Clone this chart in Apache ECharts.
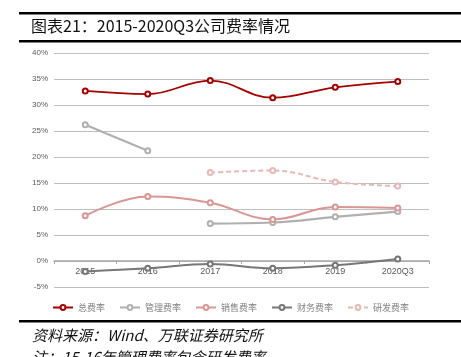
<!DOCTYPE html>
<html><head><meta charset="utf-8">
<script src="https://cdn.jsdelivr.net/npm/echarts@6/dist/echarts.min.js"></script>
<style>html,body{margin:0;padding:0;background:#fff}#c{width:461px;height:357px}</style>
</head><body><div id="c"></div>
<script>
var categories = ['2015','2016','2017','2018','2019','2020Q3'];
var totalRate = [32.7, 32.1, 34.7, 31.4, 33.4, 34.5];
var mgmtRate1516 = [26.2, 21.2, null, null, null, null];
var mgmtRate17on = [null, null, 7.2, 7.4, 8.5, 9.5];
var salesRate = [8.7, 12.4, 11.2, 8.0, 10.4, 10.2];
var financeRate = [-2.0, -1.4, -0.6, -1.4, -0.8, 0.4];
var rdRate = [null, null, 17.0, 17.4, 15.2, 14.4];
var yTicks = {min: -5, max: 40, interval: 5};

var chart = echarts.init(document.getElementById('c'), null, {renderer:'canvas'});
function ser(name, data, color, width, dashed){
  return {name:name, type:'line', data:data, smooth:0.4, symbol:'emptyCircle', symbolSize:5,
    lineStyle:{color:color, width:width, type: dashed?[5,3]:'solid'},
    itemStyle:{color:color, borderColor:color, borderWidth:1}, connectNulls:false, z:3};
}
var cjk = '"Noto Sans CJK SC", sans-serif';
var gridTop = 53, gridBottom = 70, plotH = 357 - gridTop - gridBottom;
var zeroOffset = -plotH * (0 - yTicks.min) / (yTicks.max - yTicks.min);
chart.setOption({
  animation:false,
  textStyle:{fontFamily:'Arial, "Liberation Sans", sans-serif'},
  grid:{left:54, right:32, top:gridTop, bottom:gridBottom},
  xAxis:{type:'category', data:categories, boundaryGap:true, offset:zeroOffset, z:1,
    axisLine:{show:true, onZero:false, lineStyle:{color:'#a6a6a6', width:1.5}},
    axisTick:{show:true, length:3, lineStyle:{color:'#a6a6a6'}},
    axisLabel:{color:'#595959', fontSize:9, margin:6}},
  yAxis:{type:'value', min:yTicks.min, max:yTicks.max, interval:yTicks.interval,
    axisLine:{show:false}, axisTick:{show:false},
    axisLabel:{color:'#595959', fontSize:8, formatter:'{value}%', margin:6},
    splitLine:{lineStyle:{color:'#bfbfbf', width:1.2}}},
  legend:{top:298, left:'center', itemWidth:20, itemHeight:6, itemGap:14,
    textStyle:{color:'#7f7f7f', fontSize:9, fontFamily:cjk},
    data:['总费率','管理费率','销售费率','财务费率','研发费率']},
  series:[
    ser('总费率', totalRate, '#a50000', 1.8),
    ser('管理费率', mgmtRate1516, '#b0b0b0', 2.2),
    ser('管理费率', mgmtRate17on, '#b0b0b0', 2.2),
    ser('销售费率', salesRate, '#d99694', 2),
    ser('财务费率', financeRate, '#767676', 2),
    ser('研发费率', rdRate, '#e6b9b8', 2, true)
  ],
  graphic:[
    {type:'rect', shape:{x:19, y:12, width:442, height:2.5}, style:{fill:'#000'}},
    {type:'text', left:31, top:18, style:{text:'图表21：2015-2020Q3公司费率情况', fill:'#111', font:'16px "Noto Sans CJK SC", sans-serif'}},
    {type:'rect', shape:{x:19, y:40, width:442, height:2.5}, style:{fill:'#000'}},
    {type:'rect', shape:{x:19, y:320, width:442, height:2.5}, style:{fill:'#000'}},
    {type:'text', left:32, top:328, style:{text:'资料来源：Wind、万联证券研究所', fill:'#111', font:'italic 15px "Noto Sans CJK SC", sans-serif'}},
    {type:'text', left:32, top:350, style:{text:'注：15-16年管理费率包含研发费率', fill:'#111', font:'italic 15px "Noto Sans CJK SC", sans-serif'}}
  ]
});
</script></body></html>
